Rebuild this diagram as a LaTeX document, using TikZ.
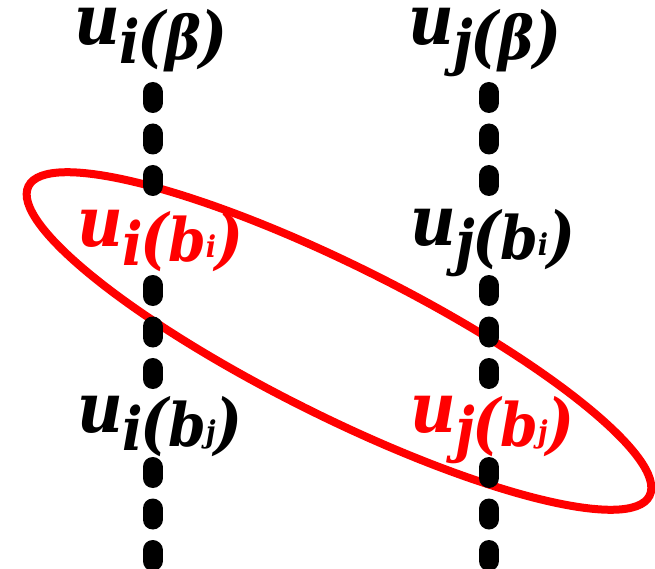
\documentclass[tikz,border=0pt]{standalone}
\usepackage{fontspec}
\setmainfont{DejaVu Serif}
\newcommand{\lbfont}{\fontsize{60}{62}\selectfont\bfseries\itshape}
\newcommand{\smfont}{\fontsize{30}{32}\selectfont\bfseries\itshape}
\newcommand{\bigu}{\fontsize{70}{72}\selectfont u}
\newcommand{\bigp}[1]{{\fontsize{66}{68}\selectfont #1}}
\newcommand{\ulab}[4]{\scalebox{0.9}[1]{\smash{\raisebox{#1}{\bigu}}\kern-1pt\raisebox{-4pt}{#2}\kern-2pt\bigp{(}\kern-1pt#3#4\kern-1pt\bigp{)}}}
\tikzset{
  lab/.style={inner sep=0pt, anchor=base west, font=\lbfont},
  dashline/.style={line width=20pt, line cap=round, dash pattern=on 11pt off 30.5pt},
  loop/.style={draw=red, line width=8pt},
}
\begin{document}
\begin{tikzpicture}[x=1pt,y=-1pt]
\useasboundingbox (0,0) rectangle (655,569);
% red ellipse
\draw[loop] (339,341) ellipse[x radius=347, y radius=75, rotate=-26.5];
% dashed columns
\foreach \x/\n in {152.5/L,489/R}{
  \coordinate (\n1a) at (\x,92);  \coordinate (\n1b) at (\x,197);
  \coordinate (\n2a) at (\x,285); \coordinate (\n2b) at (\x,390);
  \coordinate (\n3a) at (\x,467); \coordinate (\n3b) at (\x,569);
  \draw[dashline] (\n1a) -- (\n1b);
  \draw[dashline] (\n2a) -- (\n2b);
  \draw[dashline] (\n3a) -- (\n3b);
}
% labels
\node[lab] (uib) at (74,60) {\ulab{15pt}{i}{β}{}};
\node[lab] (ujb) at (408,60) {\ulab{15pt}{j}{β}{}};
\node[lab, text=red] (uibi) at (77,261) {\ulab{14pt}{i}{b}{\raisebox{4pt}{\smfont i}}};
\node[lab] (ujbi) at (410,259) {\ulab{14pt}{j}{b}{\raisebox{4pt}{\smfont i}}};
\node[lab] (uibj) at (77,446) {\ulab{14pt}{i}{b}{\raisebox{4pt}{\smfont j}}};
\node[lab, text=red] (ujbj) at (410,446) {\ulab{14pt}{j}{b}{\raisebox{4pt}{\smfont j}}};
\end{tikzpicture}
\end{document}
